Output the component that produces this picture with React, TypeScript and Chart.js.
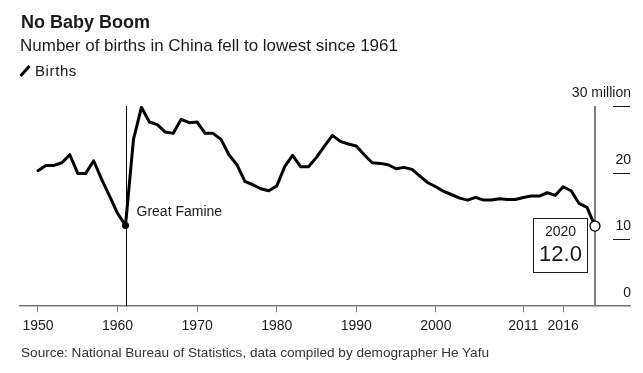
import React, { useEffect, useRef } from "react";
import { Chart, registerables } from "chart.js";

Chart.register(...registerables);

const TITLE = "No Baby Boom";
const SUBTITLE = "Number of births in China fell to lowest since 1961";
const LEGEND_LABEL = "Births";
const SOURCE = "Source: National Bureau of Statistics, data compiled by demographer He Yafu";

const years = [
  1950, 1951, 1952, 1953, 1954, 1955, 1956, 1957, 1958, 1959,
  1960, 1961, 1962, 1963, 1964, 1965, 1966, 1967, 1968, 1969,
  1970, 1971, 1972, 1973, 1974, 1975, 1976, 1977, 1978, 1979,
  1980, 1981, 1982, 1983, 1984, 1985, 1986, 1987, 1988, 1989,
  1990, 1991, 1992, 1993, 1994, 1995, 1996, 1997, 1998, 1999,
  2000, 2001, 2002, 2003, 2004, 2005, 2006, 2007, 2008, 2009,
  2010, 2011, 2012, 2013, 2014, 2015, 2016, 2017, 2018, 2019,
  2020,
];

const births = [
  20.3, 21.1, 21.1, 21.5, 22.7, 19.9, 19.9, 21.8, 19.0, 16.5,
  13.9, 12.1, 25.0, 29.8, 27.6, 27.2, 26.1, 25.9, 28.0, 27.5,
  27.6, 25.9, 25.9, 25.0, 22.7, 21.2, 18.7, 18.2, 17.6, 17.3,
  18.0, 20.9, 22.6, 20.9, 20.9, 22.3, 24.0, 25.6, 24.7, 24.3,
  24.0, 22.7, 21.5, 21.4, 21.2, 20.6, 20.8, 20.5, 19.5, 18.5,
  17.9, 17.2, 16.7, 16.2, 15.9, 16.3, 15.9, 15.9, 16.1, 16.0,
  16.0, 16.3, 16.5, 16.5, 17.0, 16.6, 17.9, 17.3, 15.4, 14.8,
  12.0,
];

const xTicks = [1950, 1960, 1970, 1980, 1990, 2000, 2011, 2016];
const yTicks = [0, 10, 20, 30];
const yTickLabels = ["0", "10", "20", "30 million"];

const famineYear = 1961;
const famineLabel = "Great Famine";
const lastYear = 2020;
const lastLabelYear = "2020";
const lastLabelValue = "12.0";

const FONT = "'Liberation Sans', Arial, Helvetica, sans-serif";

const annotationPlugin = {
  id: "annotations",
  beforeDatasetsDraw(chart: any) {
    const { ctx, scales } = chart;
    const x = scales.x;
    const y = scales.y;
    ctx.save();
    ctx.font = `14px ${FONT}`;
    ctx.fillStyle = "#1a1a1a";
    ctx.textAlign = "right";
    ctx.textBaseline = "middle";
    const right = chart.chartArea.right;
    yTicks.forEach((v, i) => {
      const py = y.getPixelForValue(v);
      ctx.fillText(yTickLabels[i], right + 1, py - 13);
      if (v !== 0) {
        ctx.strokeStyle = "#1a1a1a";
        ctx.lineWidth = 1;
        ctx.beginPath();
        ctx.moveTo(right - 17, Math.round(py) + 0.5);
        ctx.lineTo(right, Math.round(py) + 0.5);
        ctx.stroke();
      }
    });
    const topY = y.getPixelForValue(30);
    const botY = y.getPixelForValue(0);
    const fx = Math.round(x.getPixelForValue(famineYear)) + 0.5;
    ctx.strokeStyle = "#000";
    ctx.lineWidth = 1;
    ctx.beginPath();
    ctx.moveTo(fx, topY);
    ctx.lineTo(fx, botY);
    ctx.stroke();
    const lx = x.getPixelForValue(lastYear);
    ctx.strokeStyle = "#7d7d7d";
    ctx.lineWidth = 2;
    ctx.beginPath();
    ctx.moveTo(lx, topY);
    ctx.lineTo(lx, botY);
    ctx.stroke();
    ctx.restore();
  },
  afterDatasetsDraw(chart: any) {
    const { ctx, scales } = chart;
    const x = scales.x;
    const y = scales.y;
    ctx.save();
    const fIdx = years.indexOf(famineYear);
    const fpx = x.getPixelForValue(famineYear);
    const fpy = y.getPixelForValue(births[fIdx]);
    ctx.font = `14px ${FONT}`;
    ctx.fillStyle = "#1a1a1a";
    ctx.textAlign = "left";
    ctx.textBaseline = "middle";
    ctx.fillText(famineLabel, fpx + 11, fpy - 13);
    const lIdx = years.indexOf(lastYear);
    const lpx = x.getPixelForValue(lastYear);
    const lpy = y.getPixelForValue(births[lIdx]);
    const bw = 54;
    const bh = 54;
    const bx = Math.round(lpx - 8 - bw) + 0.5;
    const by = Math.round(lpy - 8) + 0.5;
    ctx.fillStyle = "#fff";
    ctx.fillRect(bx, by, bw, bh);
    ctx.strokeStyle = "#1a1a1a";
    ctx.lineWidth = 1;
    ctx.strokeRect(bx, by, bw, bh);
    ctx.fillStyle = "#1a1a1a";
    ctx.textAlign = "center";
    ctx.font = `14px ${FONT}`;
    ctx.fillText(lastLabelYear, bx + bw / 2, by + 14);
    ctx.font = `22px ${FONT}`;
    ctx.fillText(lastLabelValue, bx + bw / 2, by + 36);
    ctx.restore();
  },
};

export default function App() {
  const canvasRef = useRef<HTMLCanvasElement | null>(null);

  useEffect(() => {
    if (!canvasRef.current) return;
    const chart = new Chart(canvasRef.current, {
      type: "line",
      data: {
        datasets: [
          {
            label: LEGEND_LABEL,
            data: years.map((yr, i) => ({ x: yr, y: births[i] })),
            borderColor: "#000",
            borderWidth: 3,
            tension: 0,
            borderJoinStyle: "round",
            borderCapStyle: "round",
            pointRadius: (c: any) => {
              const yr = years[c.dataIndex];
              if (yr === famineYear) return 3.5;
              if (yr === lastYear) return 5;
              return 0;
            },
            pointBackgroundColor: (c: any) =>
              years[c.dataIndex] === lastYear ? "#fff" : "#000",
            pointBorderColor: "#000",
            pointBorderWidth: (c: any) =>
              years[c.dataIndex] === lastYear ? 1.3 : 0,
            clip: false as any,
          },
        ],
      },
      options: {
        responsive: false,
        animation: false,
        events: [],
        layout: { padding: { left: 20, right: 13, top: 106, bottom: 32 } },
        plugins: {
          legend: { display: false },
          tooltip: { enabled: false },
          title: { display: false },
        },
        scales: {
          x: {
            type: "linear",
            min: 1947.74,
            max: 2024.4,
            afterBuildTicks: (scale: any) => {
              scale.ticks = xTicks.map((v) => ({ value: v }));
            },
            grid: {
              display: true,
              drawOnChartArea: false,
              drawTicks: true,
              tickLength: 6,
              color: "#777",
              lineWidth: 1,
            },
            border: { display: true, color: "#777", width: 1.5 },
            ticks: {
              autoSkip: false,
              maxRotation: 0,
              padding: 6,
              color: "#1a1a1a",
              font: { family: FONT, size: 14 },
              callback: (v: any) => String(v),
            },
          },
          y: {
            display: false,
            min: 0,
            max: 30,
          },
        },
      },
      plugins: [annotationPlugin],
    });
    return () => chart.destroy();
  }, []);

  const textBase: React.CSSProperties = {
    position: "absolute",
    whiteSpace: "nowrap",
    fontFamily: FONT,
    color: "#1a1a1a",
  };

  return (
    <div style={{ position: "absolute", left: 0, top: 0, width: 643, height: 373, background: "#fff", overflow: "hidden" }}>
      <canvas ref={canvasRef} width={643} height={373} style={{ position: "absolute", left: 0, top: 0 }} />
      <div style={{ ...textBase, left: 21, top: 11, fontSize: 18, fontWeight: "bold", lineHeight: "22px" }}>{TITLE}</div>
      <div style={{ ...textBase, left: 20, top: 35, fontSize: 17, lineHeight: "22px" }}>{SUBTITLE}</div>
      <svg style={{ position: "absolute", left: 18, top: 62 }} width={16} height={16}>
        <line x1={2.5} y1={14} x2={11.5} y2={4} stroke="#000" strokeWidth={3} strokeLinecap="butt" />
      </svg>
      <div style={{ ...textBase, left: 35, top: 61, fontSize: 15, letterSpacing: "0.6px", lineHeight: "20px" }}>{LEGEND_LABEL}</div>
      <div style={{ ...textBase, left: 21, top: 344, fontSize: 13.6, lineHeight: "18px", color: "#333" }}>{SOURCE}</div>
    </div>
  );
}
